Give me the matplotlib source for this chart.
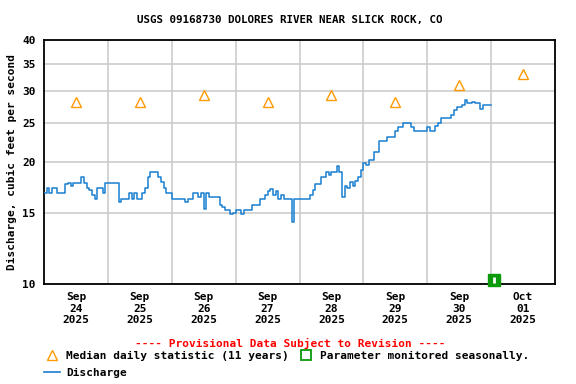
import numpy as np
import pandas as pd
import matplotlib
matplotlib.use('Agg')
import matplotlib.pyplot as plt
from matplotlib.lines import Line2D
import matplotlib.dates as mdates
from matplotlib.ticker import FixedLocator, NullLocator

plt.rcParams['font.family'] = 'DejaVu Sans Mono'
plt.rcParams['font.weight'] = 'bold'

# hourly discharge, cfs, starting 2025-09-24 00:00
discharge = [
    16.8, 17.3, 16.8, 17.3, 17.3, 16.8, 16.8, 16.8, 17.6, 17.8, 17.5, 17.8,
    17.8, 17.8, 18.35, 17.8, 17.3, 17.1, 16.6, 16.2, 17.3, 17.3, 16.8, 17.8,
    17.8, 17.8, 17.8, 17.8, 15.9, 16.2, 16.2, 16.2, 16.8, 16.2, 16.8, 16.2,
    16.2, 16.8, 17.3, 18.4, 18.9, 18.9, 18.9, 18.35, 17.9, 17.3, 16.8, 16.8,
    16.2, 16.2, 16.2, 16.2, 16.2, 15.9, 16.2, 16.2, 16.8, 16.8, 16.4, 16.8,
    15.3, 16.8, 16.4, 16.4, 16.4, 16.4, 15.7, 15.5, 15.2, 15.2, 14.9, 15.0,
    15.2, 15.2, 14.9, 15.2, 15.2, 15.2, 15.7, 15.7, 15.7, 16.2, 16.2, 16.6,
    17.0, 17.2, 16.6, 17.0, 16.2, 16.6, 16.2, 16.2, 16.2, 14.2, 16.2, 16.2,
    16.2, 16.2, 16.2, 16.2, 16.6, 17.06, 17.7, 17.7, 18.4, 18.4, 18.9, 18.6,
    18.9, 18.9, 19.5, 18.9, 16.4, 17.5, 17.3, 17.9, 17.5, 18.0, 18.4, 19.1,
    19.9, 19.7, 20.2, 20.2, 21.2, 21.2, 22.5, 22.5, 22.5, 23.1, 23.1, 23.1,
    23.8, 24.4, 24.4, 24.9, 24.9, 24.9, 24.4, 23.8, 23.8, 23.8, 23.8, 23.8,
    24.4, 23.8, 23.8, 24.5, 24.9, 25.65, 25.65, 25.65, 25.65, 26.1, 26.9, 27.35,
    27.35, 27.7, 28.5, 27.9, 27.9, 28.2, 27.9, 27.9, 27.1, 27.7, 27.7, 27.7,
    27.7,
]
times = pd.date_range('2025-09-24 00:00', periods=len(discharge), freq='h')

median_days = pd.date_range('2025-09-24 12:00', periods=8, freq='D')
median_vals = [28.2, 28.2, 29.2, 28.2, 29.2, 28.2, 31.0, 33.0]

yticks = [10, 15, 20, 25, 30, 35, 40]
day_labels = ['Sep\n24\n2025', 'Sep\n25\n2025', 'Sep\n26\n2025', 'Sep\n27\n2025',
              'Sep\n28\n2025', 'Sep\n29\n2025', 'Sep\n30\n2025', 'Oct\n01\n2025']

blue = '#1a7fd0'
orange = '#ff9900'
green = '#0a9a0a'

fig = plt.figure(figsize=(5.76, 3.84), dpi=100)
ax = fig.add_axes([44/576, 1-284/384, 511/576, 244/384])

ax.plot(times, discharge, color=blue, lw=1.1, drawstyle='steps-post', zorder=3)
ax.plot(median_days, median_vals, linestyle='none', marker='^', ms=7,
        mfc='none', mec=orange, mew=1.0, zorder=4)

# seasonal marker at end of record
tend = times[-1] + pd.Timedelta(hours=1)
ax.plot([tend], [10.23], marker='s', ms=8, mfc=green, mec=green, zorder=5, clip_on=False)
ax.plot([tend], [10.23], marker='|', ms=5, mec='white', mew=2, zorder=6, clip_on=False)

ax.set_yscale('log')
ax.set_ylim(10, 40)
ax.yaxis.set_major_locator(FixedLocator(yticks))
ax.yaxis.set_minor_locator(NullLocator())
ax.set_yticklabels([str(t) for t in yticks], fontsize=8, fontweight='bold')

ax.set_xlim(pd.Timestamp('2025-09-24'), pd.Timestamp('2025-10-02'))
ax.xaxis.set_major_locator(FixedLocator(mdates.date2num(median_days)))
ax.xaxis.set_minor_locator(FixedLocator(mdates.date2num(
    pd.date_range('2025-09-25', periods=7, freq='D'))))
ax.set_xticklabels(day_labels, fontsize=8, fontweight='bold', linespacing=1.15)
ax.tick_params(axis='both', which='both', length=0, pad=6)
ax.grid(True, which='minor', axis='x', color='#cccccc', lw=1.2)
ax.grid(True, which='major', axis='y', color='#cccccc', lw=1.2)
for s in ax.spines.values():
    s.set_linewidth(1.3)

ax.set_ylabel('Discharge, cubic feet per second', fontsize=8, fontweight='bold', labelpad=4)
fig.text(290/576, 1-20/384, 'USGS 09168730 DOLORES RIVER NEAR SLICK ROCK, CO',
         ha='center', va='center', fontsize=7.8, fontweight='bold')

fig.text(290/576, 1-343/384, '---- Provisional Data Subject to Revision ----',
         ha='center', va='center', fontsize=8, fontweight='bold', color='red')

# legend
fig.add_artist(Line2D([52/576], [1-355/384], transform=fig.transFigure, marker='^',
                      ms=7, mfc='none', mec=orange, mew=1.0, linestyle='none'))
fig.text(66/576, 1-356/384, 'Median daily statistic (11 years)', ha='left', va='center',
         fontsize=8, fontweight='bold')
fig.add_artist(Line2D([306/576], [1-355/384], transform=fig.transFigure, marker='s',
                      ms=7, mfc='none', mec=green, mew=1.3, linestyle='none'))
fig.text(320/576, 1-356/384, 'Parameter monitored seasonally.', ha='left', va='center',
         fontsize=8, fontweight='bold')
fig.add_artist(Line2D([44/576, 60/576], [1-372/384, 1-372/384], transform=fig.transFigure,
                      color=blue, lw=1.2))
fig.text(66/576, 1-373/384, 'Discharge', ha='left', va='center',
         fontsize=8, fontweight='bold')

plt.savefig('out.png', dpi=100)
